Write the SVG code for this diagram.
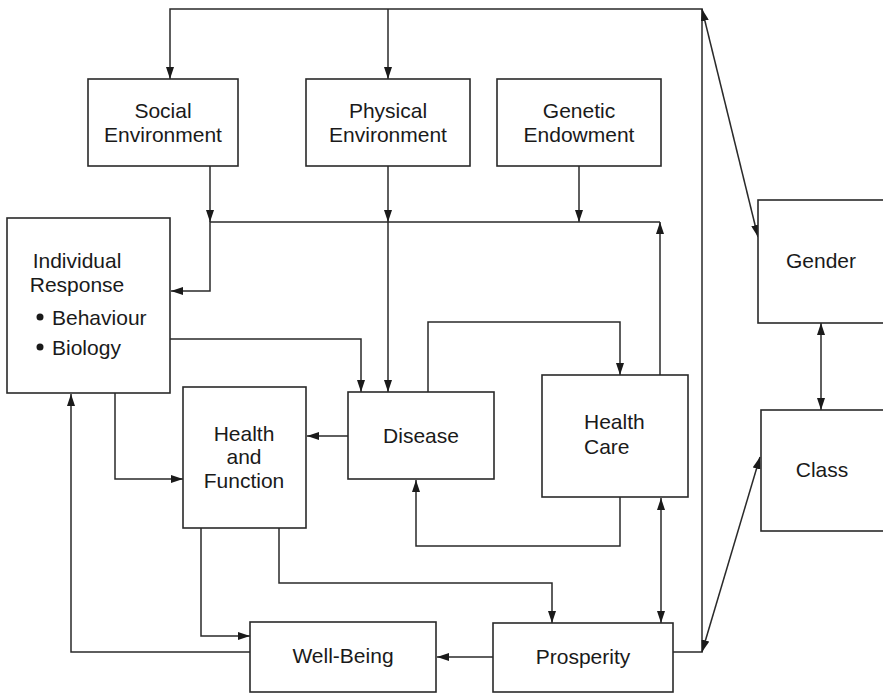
<svg xmlns="http://www.w3.org/2000/svg" width="883" height="693" viewBox="0 0 883 693">
  <style>
    .box { fill: #ffffff; stroke: #2a2a2a; stroke-width: 1.6; }
    .lbl { font-family: "Liberation Sans", Arial, Helvetica, sans-serif; font-size: 21px; fill: #1a1a1a; text-anchor: middle; }
    .lft { text-anchor: start; }
    .wire { fill: none; stroke: #2a2a2a; stroke-width: 1.5; }
    .one { marker-end: url(#head); }
    .two { marker-start: url(#head); marker-end: url(#head); }
  </style>
  <defs>
    <marker id="head" viewBox="0 0 12 8" refX="12" refY="4" markerWidth="12" markerHeight="8" markerUnits="userSpaceOnUse" orient="auto-start-reverse">
      <path d="M0,0 L12,4 L0,8 Z" fill="#1a1a1a"/>
    </marker>
  </defs>
  <rect width="883" height="693" fill="#ffffff"/>

  <g id="connectors">
    <!-- outer loop from Prosperity up the right side and back down to the environments -->
    <path class="wire one" d="M673,652 H702 V9 H170 V79"/>
    <path class="wire one" d="M388,9 V79"/>
    <!-- links to Gender and Class -->
    <path class="wire two" d="M702,9 L758,237"/>
    <path class="wire two" d="M702,652 L760,457"/>
    <path class="wire two" d="M821,323 V410"/>
    <!-- environments onto the shared bus -->
    <path class="wire one" d="M210,166 V222"/>
    <path class="wire one" d="M388,166 V222"/>
    <path class="wire one" d="M579,166 V222"/>
    <path class="wire one" d="M660,222 H210 V291 H171"/>
    <path class="wire one" d="M388,222 V392"/>
    <path class="wire one" d="M660,375 V222"/>
    <!-- central flows -->
    <path class="wire one" d="M170,339 H361 V392"/>
    <path class="wire one" d="M428,392 V322 H620 V375"/>
    <path class="wire one" d="M348,436 H307"/>
    <path class="wire one" d="M620,497 V546 H416 V480"/>
    <path class="wire two" d="M661,498 V623"/>
    <path class="wire one" d="M115,393 V479 H183"/>
    <path class="wire one" d="M250,652 H71 V394"/>
    <path class="wire one" d="M201,528 V636 H250"/>
    <path class="wire one" d="M279,528 V583 H552 V623"/>
    <path class="wire one" d="M493,657 H437"/>
  </g>

  <g id="social-environment">
    <rect class="box" x="88" y="79" width="150" height="87"/>
    <text class="lbl" x="163" y="118">Social</text>
    <text class="lbl" x="163" y="142">Environment</text>
  </g>
  <g id="physical-environment">
    <rect class="box" x="306" y="79" width="164" height="87"/>
    <text class="lbl" x="388" y="118">Physical</text>
    <text class="lbl" x="388" y="142">Environment</text>
  </g>
  <g id="genetic-endowment">
    <rect class="box" x="497" y="79" width="164" height="87"/>
    <text class="lbl" x="579" y="118">Genetic</text>
    <text class="lbl" x="579" y="142">Endowment</text>
  </g>
  <g id="individual-response">
    <rect class="box" x="7" y="218" width="163" height="175"/>
    <text class="lbl" x="77" y="268">Individual</text>
    <text class="lbl" x="77" y="292">Response</text>
    <circle cx="40" cy="317" r="3.5" fill="#1a1a1a"/>
    <text class="lbl lft" x="52" y="325">Behaviour</text>
    <circle cx="40" cy="347" r="3.5" fill="#1a1a1a"/>
    <text class="lbl lft" x="52" y="355">Biology</text>
  </g>
  <g id="health-and-function">
    <rect class="box" x="183" y="387" width="123" height="141"/>
    <text class="lbl" x="244" y="441">Health</text>
    <text class="lbl" x="244" y="464">and</text>
    <text class="lbl" x="244" y="488">Function</text>
  </g>
  <g id="disease">
    <rect class="box" x="348" y="392" width="146" height="87"/>
    <text class="lbl" x="421" y="443">Disease</text>
  </g>
  <g id="health-care">
    <rect class="box" x="542" y="375" width="146" height="122"/>
    <text class="lbl lft" x="584" y="429">Health</text>
    <text class="lbl lft" x="584" y="454">Care</text>
  </g>
  <g id="well-being">
    <rect class="box" x="250" y="622" width="186" height="70"/>
    <text class="lbl" x="343" y="663">Well-Being</text>
  </g>
  <g id="prosperity">
    <rect class="box" x="493" y="623" width="180" height="69"/>
    <text class="lbl" x="583" y="664">Prosperity</text>
  </g>
  <g id="gender">
    <rect class="box" x="758" y="200" width="140" height="123"/>
    <text class="lbl" x="821" y="268">Gender</text>
  </g>
  <g id="class">
    <rect class="box" x="761" y="410" width="140" height="121"/>
    <text class="lbl" x="822" y="477">Class</text>
  </g>
</svg>
